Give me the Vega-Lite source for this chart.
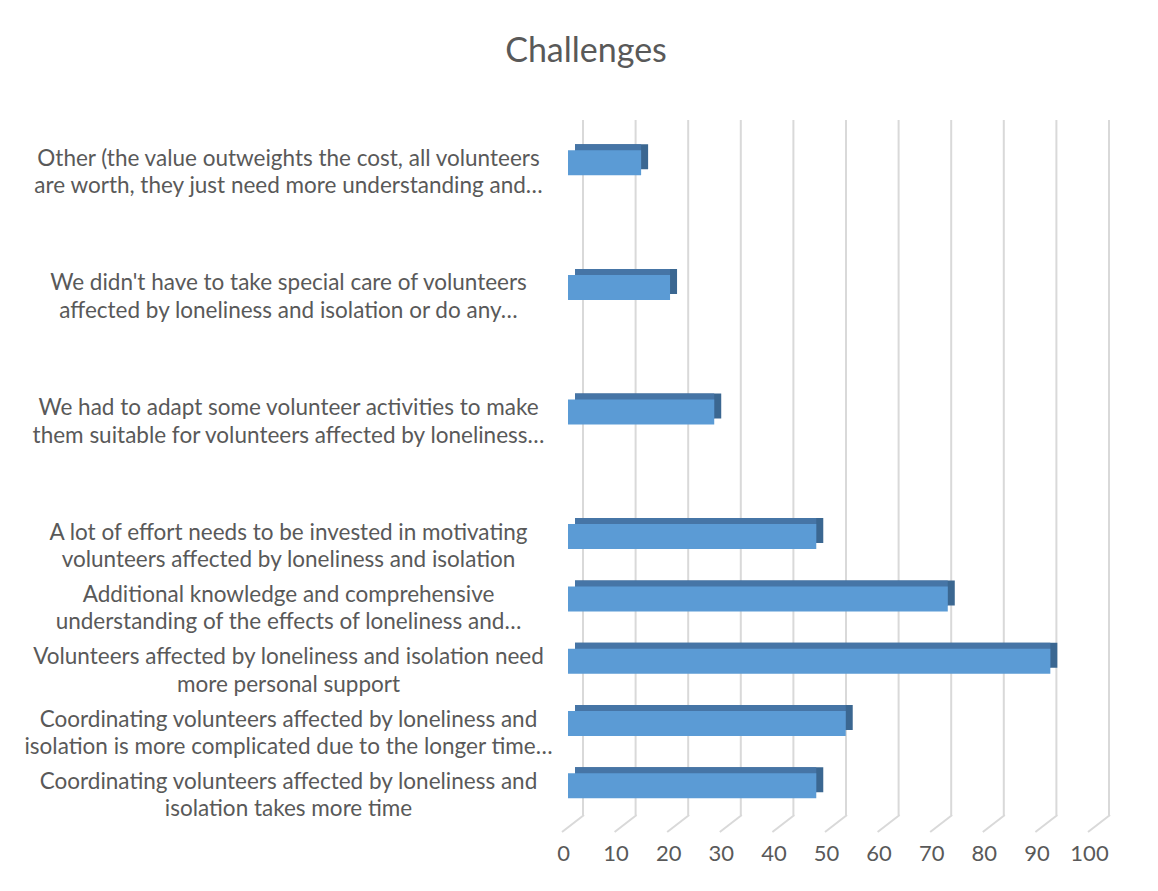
{
  "$schema": "https://vega.github.io/schema/vega-lite/v6.json",
  "autosize": {"type": "none"},
  "padding": {"left": 568, "top": 120, "right": 64, "bottom": 76},
  "width": 526,
  "height": 695,
  "background": "white",
  "title": {
    "text": "Challenges",
    "font": "Lato",
    "fontSize": 34,
    "fontWeight": "normal",
    "color": "#595959",
    "anchor": "middle",
    "frame": "group",
    "dx": -245,
    "baseline": "alphabetic",
    "offset": 23
  },
  "datasets": {
    "bars": [
      {"label": "Other (the value outweights the cost, all volunteers|are worth, they just need more understanding and…", "v": 13.9},
      {"label": "We didn't have to take special care of volunteers|affected by loneliness and isolation or do any…", "v": 19.4},
      {"label": "We had to adapt some volunteer activities to make|them suitable for volunteers affected by loneliness…", "v": 27.8},
      {"label": "A lot of effort needs to be invested in motivating|volunteers affected by loneliness and isolation", "v": 47.2},
      {"label": "Additional knowledge and comprehensive|understanding of the effects of loneliness and…", "v": 72.2},
      {"label": "Volunteers affected by loneliness and isolation need|more personal support", "v": 91.7},
      {"label": "Coordinating volunteers affected by loneliness and|isolation is more complicated due to the longer time…", "v": 52.8},
      {"label": "Coordinating volunteers affected by loneliness and|isolation takes more time", "v": 47.2}
    ],
    "grid": [
      {"g": 0}, {"g": 10}, {"g": 20}, {"g": 30}, {"g": 40}, {"g": 50},
      {"g": 60}, {"g": 70}, {"g": 80}, {"g": 90}, {"g": 100}
    ]
  },
  "layer": [
    {
      "data": {"name": "grid"},
      "mark": {"type": "rule", "color": "#d9d9d9", "strokeWidth": 2, "xOffset": 15},
      "encoding": {
        "x": {"field": "g", "type": "quantitative", "scale": {"domain": [0, 100], "nice": false}}
      }
    },
    {
      "data": {"name": "grid"},
      "mark": {"type": "rule", "color": "#d9d9d9", "strokeWidth": 2, "xOffset": -6, "x2Offset": 16, "yOffset": 17, "y2Offset": 0},
      "encoding": {
        "x": {"field": "g", "type": "quantitative"},
        "x2": {"field": "g"},
        "y": {"datum": 0, "type": "quantitative", "scale": {"domain": [0, 1]}, "axis": null},
        "y2": {"datum": 0}
      }
    },
    {
      "data": {"name": "bars"},
      "encoding": {
        "y": {
          "field": "label",
          "type": "nominal",
          "sort": null,
          "scale": {
            "domain": [
              "Other (the value outweights the cost, all volunteers|are worth, they just need more understanding and…",
              " ",
              "We didn't have to take special care of volunteers|affected by loneliness and isolation or do any…",
              "  ",
              "We had to adapt some volunteer activities to make|them suitable for volunteers affected by loneliness…",
              "   ",
              "A lot of effort needs to be invested in motivating|volunteers affected by loneliness and isolation",
              "Additional knowledge and comprehensive|understanding of the effects of loneliness and…",
              "Volunteers affected by loneliness and isolation need|more personal support",
              "Coordinating volunteers affected by loneliness and|isolation is more complicated due to the longer time…",
              "Coordinating volunteers affected by loneliness and|isolation takes more time"
            ],
            "paddingInner": 0.5987,
            "paddingOuter": 0.3769,
            "align": 0.645
          },
          "axis": {"labelExpr": "split(datum.value, '|')", "title": null}
        },
        "x": {"field": "v", "type": "quantitative"},
        "x2": {"datum": 0}
      },
      "layer": [
        {"mark": {"type": "bar", "color": "#3B6791", "xOffset": 7, "x2Offset": 7, "yOffset": -6}},
        {"mark": {"type": "bar", "color": "#4675A6", "xOffset": 0, "x2Offset": 7, "yOffset": -6}},
        {"mark": {"type": "bar", "color": "#5B9BD5"}}
      ]
    }
  ],
  "resolve": {"scale": {"y": "independent"}},
  "config": {
    "view": {"stroke": null},
    "axisX": {
      "title": null,
      "grid": false,
      "domain": false,
      "ticks": false,
      "tickSize": 0,
      "tickCount": 10,
      "labelFlush": false,
      "labelOverlap": false,
      "labelFont": "Lato",
      "labelFontSize": 22,
      "labelColor": "#595959",
      "labelOffset": -5,
      "labelPadding": 45,
      "labelBaseline": "alphabetic"
    },
    "axisY": {
      "title": null,
      "grid": false,
      "domain": false,
      "ticks": false,
      "tickSize": 0,
      "labelFont": "Lato",
      "labelFontSize": 22.5,
      "labelColor": "#595959",
      "labelAlign": "center",
      "labelBaseline": "middle",
      "labelPadding": 280,
      "labelLimit": 1000,
      "labelLineHeight": 27.5,
      "labelOffset": -4
    }
  }
}
